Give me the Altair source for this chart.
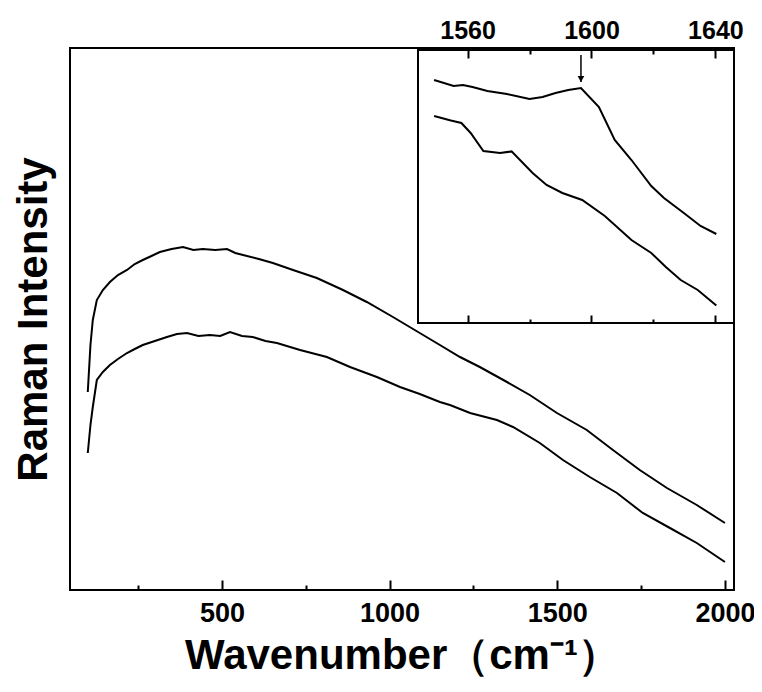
import altair as alt
import pandas as pd

# ---- main spectrum (wavenumber, intensity a.u.) ----
up_x = [100, 108, 115, 127, 145, 166, 190, 217, 240, 264, 290, 315, 350, 384, 415, 443, 480, 515,
        540, 563, 610, 652, 712, 783, 861, 932, 1010, 1080, 1150, 1210, 1269, 1350, 1418, 1499,
        1588, 1666, 1746, 1827, 1916, 2000]
up_y = [198, 245, 270, 290, 300, 308, 315, 320, 326, 330, 334, 338, 341, 343, 340, 341, 340, 341,
        337, 335, 331, 327, 320, 312, 300, 288, 273, 259, 245, 233, 223, 208, 195, 177,
        160, 140, 120, 102, 85, 67]
lo_x = [100, 108, 115, 127, 145, 166, 190, 217, 240, 264, 300, 336, 366, 396, 430, 464, 495, 524,
        560, 592, 630, 664, 733, 813, 882, 962, 1031, 1090, 1150, 1180, 1240, 1320, 1368, 1448,
        1517, 1597, 1678, 1755, 1836, 1916, 2000]
lo_y = [137, 165, 183, 210, 218, 225, 231, 237, 241, 245, 249, 253, 256, 257, 254, 255, 254, 258,
        254, 253, 249, 247, 240, 233, 223, 213, 203, 196, 188, 185, 177, 170, 163, 147,
        130, 113, 97, 77, 62, 47, 28]

# ---- inset spectrum ----
iu_x = [1549.2, 1555.5, 1558.5, 1561.6, 1566.4, 1572.7, 1580.0, 1584.2, 1588.4, 1592.5, 1596.6,
        1602.4, 1607.5, 1612.9, 1619.3, 1623.4, 1629.8, 1635.2, 1640.3]
iu_y = [243, 237, 238, 236, 232, 229, 224, 226, 230, 233, 235, 216, 183, 163, 137, 125, 110, 97, 89]
il_x = [1549.2, 1554.6, 1558.0, 1561.0, 1565.1, 1570.5, 1574.2, 1581.0, 1585.5, 1590.6, 1597.0,
        1604.3, 1612.9, 1619.3, 1624.0, 1628.8, 1634.3, 1640.3]
il_y = [207, 202.5, 200, 190, 172, 170, 171.6, 150, 138, 130, 123, 107, 83, 70, 56, 43, 33, 17.5]

main_major = [500, 1000, 1500, 2000]
main_minor = [250, 750, 1250, 1750]
inset_major = [1560, 1600, 1640]
inset_minor = [1580, 1620]
arrow_x = [1596.6]
arrow_y0 = [268]
arrow_y1 = [241]

W, H = 664, 542
INSET_X = [348, 664]
INSET_Y = [275, 2]
MAIN_Y = [0, 542]
INSET_YD = [0, 273]
FONT = "Liberation Sans"

main_df = pd.concat([
    pd.DataFrame({"wn": up_x, "I": up_y, "s": "a"}),
    pd.DataFrame({"wn": lo_x, "I": lo_y, "s": "b"}),
], ignore_index=True)
inset_df = pd.concat([
    pd.DataFrame({"wn": iu_x, "I": iu_y, "s": "a"}),
    pd.DataFrame({"wn": il_x, "I": il_y, "s": "b"}),
], ignore_index=True)


def mx_scale():
    return alt.Scale(domain=[47, 2027], nice=False, zero=False)


def ix_scale():
    return alt.Scale(domain=[1544, 1646], range=INSET_X, nice=False, zero=False)


my_scale = alt.Scale(domain=MAIN_Y, nice=False, zero=False)
iy_scale = alt.Scale(domain=INSET_YD, range=INSET_Y, nice=False, zero=False)

TICK = dict(ticks=True, tickColor="black", tickWidth=2, domain=False, grid=False, zindex=1)

main_xaxis = alt.Axis(orient="bottom", values=main_major, format="d", tickSize=10, offset=-10,
                      labelFont=FONT, labelFontSize=27, labelFontWeight="bold",
                      labelColor="black", labelPadding=10, title="Wavenumber（cm⁻¹）",
                      titleFont=FONT, titleFontSize=42, titleFontWeight="bold", titleColor="black",
                      titlePadding=9, **TICK)
main_yaxis = alt.Axis(orient="left", labels=False, ticks=False, domain=False, grid=False,
                      title="Raman Intensity", titleFont=FONT, titleFontSize=42,
                      titleFontWeight="bold", titleColor="black", titlePadding=15)
inset_xaxis = alt.Axis(orient="top", values=inset_major, format="d", tickSize=8, offset=-10,
                       labelFont=FONT, labelFontSize=25, labelFontWeight="bold",
                       labelColor="black", labelPadding=7, title=None, **TICK)


def tick_only_axis(orient, values, size, offset):
    return alt.Axis(orient=orient, values=values, labels=False, tickSize=size, offset=offset,
                    title=None, **TICK)


main_lines = alt.Chart(main_df).mark_line(color="black", strokeWidth=2).encode(
    x=alt.X("wn:Q", scale=mx_scale(), axis=main_xaxis),
    y=alt.Y("I:Q", scale=my_scale, axis=main_yaxis),
    detail="s:N",
)


def tick_carrier(values, scale, axis):
    return alt.Chart(pd.DataFrame({"wn": values})).mark_point(opacity=0).encode(
        x=alt.X("wn:Q", scale=scale, axis=axis), y=alt.value(0))


main_minor_ticks = tick_carrier(main_minor, mx_scale(),
                                tick_only_axis("bottom", main_minor, 5, -5))
inset_top_minor = tick_carrier(inset_minor, ix_scale(),
                               tick_only_axis("top", inset_minor, 4, -6))
inset_bot_major = tick_carrier(inset_major, ix_scale(),
                               tick_only_axis("bottom", inset_major, 8, -(H - INSET_Y[0]) - 8))
inset_bot_minor = tick_carrier(inset_minor, ix_scale(),
                               tick_only_axis("bottom", inset_minor, 4, -(H - INSET_Y[0]) - 4))

frame = alt.Chart(pd.DataFrame({"a": [0]})).mark_rect(fill="white", stroke="black", strokeWidth=2).encode(
    x=alt.value(INSET_X[0]), x2=alt.value(INSET_X[1]), y=alt.value(INSET_Y[1]), y2=alt.value(INSET_Y[0]))
ixs = ix_scale()
inset_lines = alt.Chart(inset_df).mark_line(color="black", strokeWidth=2).encode(
    x=alt.X("wn:Q", scale=ixs, axis=inset_xaxis),
    y=alt.Y("I:Q", scale=iy_scale, axis=None),
    detail="s:N",
)
arrow_df = pd.DataFrame({"x": arrow_x, "y0": arrow_y0, "y1": arrow_y1})
arrow_shaft = alt.Chart(arrow_df).mark_rule(color="black", strokeWidth=1.5).encode(
    x=alt.X("x:Q", scale=ixs, axis=inset_xaxis),
    y=alt.Y("y0:Q", scale=iy_scale, axis=None), y2="y1:Q")
arrow_head = alt.Chart(arrow_df).mark_point(shape="triangle-down", filled=True, color="black",
                                            size=45, opacity=1).encode(
    x=alt.X("x:Q", scale=ixs, axis=inset_xaxis),
    y=alt.Y("y1:Q", scale=iy_scale, axis=None), yOffset=alt.value(-3))
inset_layer = alt.layer(frame, inset_lines, arrow_shaft, arrow_head)

chart = alt.layer(
    main_lines, main_minor_ticks, inset_layer, inset_top_minor, inset_bot_major, inset_bot_minor
).resolve_scale(
    x="independent", y="independent"
).properties(
    width=W, height=H,
    autosize=alt.AutoSizeParams(type="none"),
    padding={"left": 62, "top": 40, "right": 20, "bottom": 94},
    background="white",
).configure_view(stroke="black", strokeWidth=2)

chart.save("out.html", embed_options={"renderer": "svg", "actions": False})
